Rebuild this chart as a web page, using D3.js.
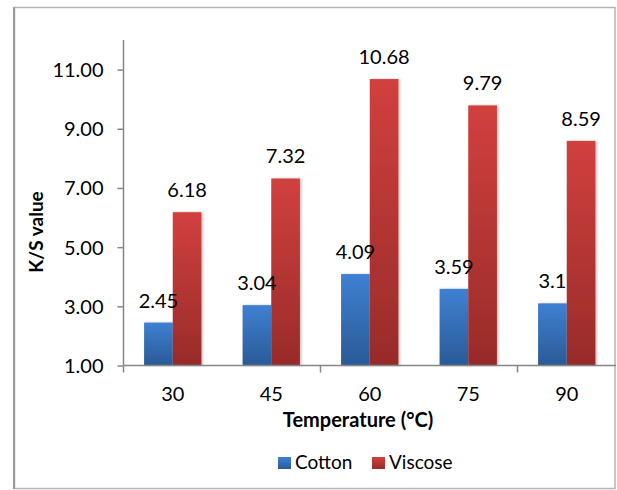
<!DOCTYPE html>
<html>
<head>
<meta charset="utf-8">
<script src="https://cdn.jsdelivr.net/npm/d3@7"></script>
<style>
  html, body { margin: 0; padding: 0; background: #fff; }
  svg { display: block; font-family: Lato, "Open Sans", sans-serif; }
</style>
</head>
<body>
<svg id="chart" width="617" height="490"></svg>
<script>
const categories = ["30", "45", "60", "75", "90"];
const seriesNames = ["Cotton", "Viscose"];
const cottonValues = [2.45, 3.04, 4.09, 3.59, 3.1];
const viscoseValues = [6.18, 7.32, 10.68, 9.79, 8.59];
const yTickValues = [1, 3, 5, 7, 9, 11];
const xAxisTitle = "Temperature (°C)";
const yAxisTitle = "K/S value";

const seriesValues = [cottonValues, viscoseValues];
const seriesColors = [
  { top: "#3F80D2", bottom: "#2A5A97" },
  { top: "#D1403E", bottom: "#982B29" }
];

const svg = d3.select("#chart");
const defs = svg.append("defs");
seriesColors.forEach((c, i) => {
  const g = defs.append("linearGradient").attr("id", "grad" + i)
    .attr("x1", 0).attr("y1", 0).attr("x2", 0).attr("y2", 1);
  g.append("stop").attr("offset", "0%").attr("stop-color", c.top);
  g.append("stop").attr("offset", "100%").attr("stop-color", c.bottom);
});
const f = defs.append("filter").attr("id", "shadow").attr("x", "-20%").attr("y", "-5%").attr("width", "150%").attr("height", "110%");
f.append("feDropShadow").attr("dx", 1.5).attr("dy", 0).attr("stdDeviation", 1.2).attr("flood-color", "#000").attr("flood-opacity", 0.25);

// outer border
svg.append("rect").attr("x", 14.5).attr("y", 7.5).attr("width", 600.5).attr("height", 481)
  .attr("fill", "#fff").attr("stroke", "#b4b4b4").attr("stroke-width", 1.5);
svg.append("line").attr("x1", 14).attr("x2", 14).attr("y1", 7).attr("y2", 489)
  .attr("stroke", "#999").attr("stroke-width", 2);

const x0 = 123.5, x1 = 616, yTop = 40, yBot = 365.5;
const numSize = 20;

const x = d3.scaleBand().domain(categories).range([x0, x1]).paddingInner(0.418).paddingOuter(0.209);
const xs = d3.scaleBand().domain(seriesNames).range([0, x.bandwidth()]);
const y = d3.scaleLinear().domain([1, 12]).range([yBot, yTop]);
const step = x.step();

// bars
categories.forEach((cat, ci) => {
  seriesNames.forEach((s, si) => {
    const v = seriesValues[si][ci];
    svg.append("rect")
      .attr("x", x(cat) + xs(s))
      .attr("y", y(v))
      .attr("width", xs.bandwidth())
      .attr("height", y(1) - y(v))
      .attr("fill", "url(#grad" + si + ")")
      .attr("filter", "url(#shadow)");
  });
});

// data labels
categories.forEach((cat, ci) => {
  seriesNames.forEach((s, si) => {
    const v = seriesValues[si][ci];
    svg.append("text")
      .attr("x", x(cat) + xs(s) + xs.bandwidth() / 2)
      .attr("y", y(v) - 15)
      .attr("text-anchor", "middle")
      .attr("font-size", numSize)
      .attr("fill", "#000")
      .text(String(v));
  });
});

// y axis
const yAxis = d3.axisLeft(y).tickValues(yTickValues).tickSize(6).tickPadding(8)
  .tickFormat(d3.format(".2f"));
const gy = svg.append("g").attr("transform", `translate(${x0},0)`).call(yAxis);
gy.select(".domain").remove();
gy.selectAll(".tick line").attr("stroke", "#868686").attr("stroke-width", 1.5);
gy.selectAll(".tick text").attr("font-size", numSize).attr("fill", "#000")
  .attr("font-family", "Lato, sans-serif").attr("dy", "0.35em").attr("x", -20);
svg.append("line").attr("x1", x0).attr("x2", x0).attr("y1", yTop).attr("y2", yBot)
  .attr("stroke", "#868686").attr("stroke-width", 1.5);

// x axis
const gx = svg.append("g").attr("transform", `translate(0,${yBot})`)
  .call(d3.axisBottom(x).tickSize(0).tickPadding(21));
gx.select(".domain").remove();
gx.selectAll(".tick text").attr("font-size", numSize).attr("fill", "#000")
  .attr("font-family", "Lato, sans-serif");
svg.append("line").attr("x1", x0).attr("x2", x1).attr("y1", yBot).attr("y2", yBot)
  .attr("stroke", "#868686").attr("stroke-width", 1.5);
[0, 2, 4].forEach(i => {
  const bx = x0 + i * step;
  svg.append("line").attr("x1", bx).attr("x2", bx).attr("y1", yBot).attr("y2", yBot + 7)
    .attr("stroke", "#868686").attr("stroke-width", 1.5);
});

// titles
svg.append("text").attr("x", 358).attr("y", 427).attr("text-anchor", "middle")
  .attr("font-size", 20).attr("font-weight", "bold").attr("fill", "#000").text(xAxisTitle);
svg.append("text").attr("transform", "translate(43,232) rotate(-90)").attr("text-anchor", "middle")
  .attr("font-size", 19).attr("font-weight", "bold").attr("fill", "#000").text(yAxisTitle);

// legend
const legendX = [278, 372];
seriesNames.forEach((s, i) => {
  svg.append("rect").attr("x", legendX[i]).attr("y", 457).attr("width", 13).attr("height", 12)
    .attr("fill", "url(#grad" + i + ")");
  svg.append("text").attr("x", legendX[i] + 17).attr("y", 469).attr("font-size", 19)
    .attr("fill", "#000").text(s);
});
</script>
</body>
</html>
